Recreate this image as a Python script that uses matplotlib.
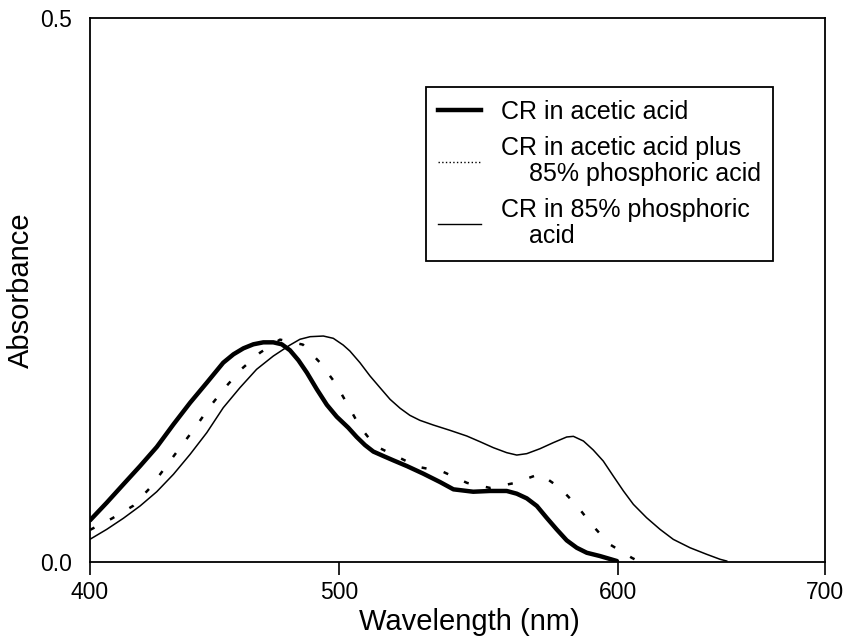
import matplotlib
matplotlib.use("Agg")
import matplotlib.pyplot as plt
from matplotlib.lines import Line2D
import numpy as np

plt.rcParams['font.family'] = ['Liberation Sans', 'DejaVu Sans']

# CR in acetic acid (thick)
wl_acetic = [400.0, 406.7, 413.4, 420.1, 426.8, 433.5, 440.2, 446.9, 453.5, 457.6, 461.6,
             465.6, 469.6, 473.6, 477.0, 480.3, 483.7, 487.1, 491.1, 495.1, 499.1,
             503.3, 506.3, 509.3, 512.3, 515.9, 519.5, 524.3, 530.2, 536.2, 541.0,
             548.1, 554.1, 560.1, 563.7, 567.3, 570.9, 574.4, 578.0, 581.6, 585.2,
             588.8, 593.5, 599.6]
abs_acetic = [0.0383, 0.0545, 0.0714, 0.0882, 0.1057, 0.1265, 0.1464, 0.1648, 0.1832, 0.1909, 0.1964,
              0.2001, 0.2019, 0.2019, 0.2001, 0.1946, 0.1854, 0.1740, 0.1587, 0.1445, 0.1335,
              0.1235, 0.1150, 0.1075, 0.1015, 0.0974, 0.0934, 0.0882, 0.0812, 0.0735, 0.0668,
              0.0646, 0.0653, 0.0653, 0.0628, 0.0585, 0.0515, 0.0407, 0.0300, 0.0199, 0.0131,
              0.0085, 0.0055, 0.0009]

# CR in acetic acid plus 85% phosphoric acid (dotted)
wl_mixed = [400, 408.8, 417.3, 424.1, 430.1, 436.1, 442.2, 447.8, 454.2, 461.0, 468.3, 476.3,
            485.5, 492.4, 498.4, 502.9, 507.5, 512.9, 528.3, 537.3, 545.9, 554.1, 563.1,
            572.0, 579.2, 585.3, 590.7, 596.8, 606.8, 609.7]
abs_mixed = [0.0295, 0.0400, 0.0516, 0.0681, 0.0866, 0.1050, 0.1234, 0.1418, 0.1602, 0.1777, 0.1924, 0.2044,
             0.1998, 0.1832, 0.1648, 0.1455, 0.1243, 0.1068, 0.0875, 0.0829, 0.0727, 0.0681, 0.0727,
             0.0810, 0.0681, 0.0516, 0.0341, 0.0166, 0.0037, 0.0009]

# CR in 85% phosphoric acid (thin)
wl_phos = [400.0, 406.7, 413.4, 420.1, 426.8, 433.5, 440.2, 446.9, 453.5, 460.2, 466.9,
           473.6, 480.3, 484.3, 488.4, 493.7, 497.7, 501.5, 503.9, 507.5, 511.1, 514.7,
           518.3, 521.9, 525.4, 529.0, 533.8, 539.8, 545.8, 550.5, 555.3, 560.1,
           563.7, 567.3, 572.0, 576.8, 581.6, 584.0, 587.6, 591.1, 594.7, 598.3,
           602.6, 607.4, 613.8, 620.3, 626.7, 634.8, 642.8, 649.3, 652.5]
abs_phos = [0.0209, 0.0300, 0.0402, 0.0515, 0.0646, 0.0806, 0.0990, 0.1189, 0.1418, 0.1602, 0.1771,
            0.1893, 0.1994, 0.2047, 0.2071, 0.2077, 0.2056, 0.1994, 0.1939, 0.1832, 0.1710, 0.1602,
            0.1495, 0.1413, 0.1348, 0.1302, 0.1259, 0.1210, 0.1158, 0.1106, 0.1051, 0.1005,
            0.0983, 0.0996, 0.1041, 0.1097, 0.1149, 0.1155, 0.1112, 0.1030, 0.0928, 0.0790,
            0.0653, 0.0530, 0.0407, 0.0300, 0.0208, 0.0131, 0.0071, 0.0025, 0.0009]

labels = ["CR in acetic acid",
          "CR in acetic acid plus\n    85% phosphoric acid",
          "CR in 85% phosphoric\n    acid"]

x_ticks = [400, 500, 600, 700]
y_ticks = [0.0, 0.5]

# the printed axis is not evenly spaced between ticks, so map it piecewise
tick_px = [0, 249, 528, 735]


def _pw(v, xp, fp):
    v = np.asarray(v, dtype=float)
    out = np.interp(v, xp, fp)
    lo = v < xp[0]
    hi = v > xp[-1]
    out = np.where(lo, fp[0] + (v - xp[0]) * (fp[1] - fp[0]) / (xp[1] - xp[0]), out)
    out = np.where(hi, fp[-1] + (v - xp[-1]) * (fp[-1] - fp[-2]) / (xp[-1] - xp[-2]), out)
    return out


def fwd(v):
    return _pw(v, x_ticks, tick_px)


def inv(v):
    return _pw(v, tick_px, x_ticks)


fig = plt.figure(figsize=(8.54, 6.38), dpi=100)
ax = fig.add_axes([0.1054, 0.1191, 0.8607, 0.8527])

ax.plot(wl_acetic, abs_acetic, color="black", lw=3.2, solid_capstyle="round", solid_joinstyle="round")
ax.plot(wl_mixed, abs_mixed, color="black", lw=1.8, linestyle=(0, (2, 7)))
ax.plot(wl_phos, abs_phos, color="black", lw=1.1, solid_joinstyle="round")

ax.set_xscale("function", functions=(fwd, inv))
ax.set_xlim(400, 700)
ax.set_ylim(0, 0.5)
ax.set_xticks(x_ticks)
ax.set_xticklabels([str(t) for t in x_ticks])
ax.set_yticks(y_ticks)
ax.set_yticklabels(["%.1f" % t for t in y_ticks])
ax.xaxis.set_minor_locator(plt.NullLocator())

ax.tick_params(axis="x", direction="out", length=9, width=1.2, pad=5, labelsize=16.5)
ax.tick_params(axis="y", length=0, pad=13, labelsize=16.5)
for s in ax.spines.values():
    s.set_linewidth(1.3)

ax.set_xlabel("Wavelength (nm)", fontsize=21)
ax.xaxis.set_label_coords(0.516, -0.085)
ax.set_ylabel("Absorbance", fontsize=21)
ax.yaxis.set_label_coords(-0.075, 0.5)

handles = [Line2D([], [], color="black", lw=3.2),
           Line2D([], [], color="black", lw=1.0, linestyle=":"),
           Line2D([], [], color="black", lw=1.0)]
leg = fig.legend(handles, labels, loc="upper left", bbox_to_anchor=(0.4988, 0.8636),
                 fontsize=18, frameon=True, fancybox=False, framealpha=1,
                 edgecolor="black", handlelength=1.7, handletextpad=0.8,
                 labelspacing=0.5, borderpad=0.5, borderaxespad=0)
leg.get_frame().set_linewidth(1.3)
for t in leg.get_texts():
    t.set_linespacing(1.1)

fig.savefig("out.png", dpi=100)
